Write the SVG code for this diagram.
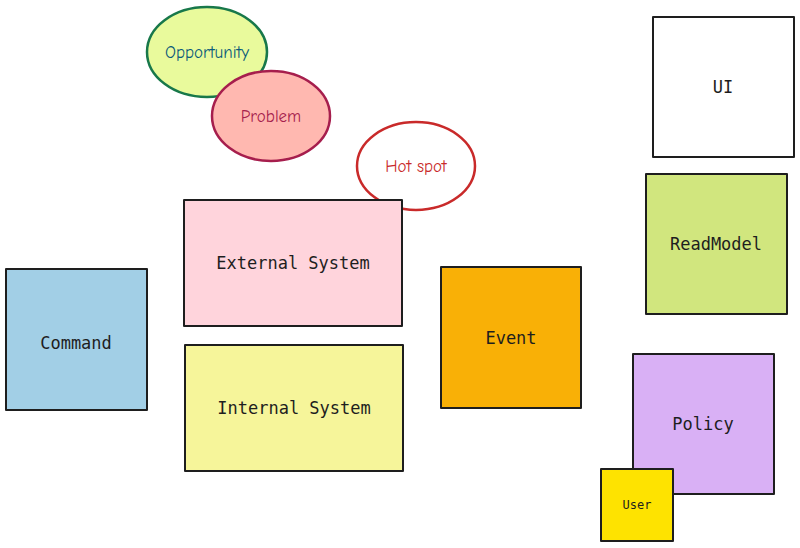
<svg xmlns="http://www.w3.org/2000/svg" width="800" height="548" viewBox="0 0 800 548">
<style>
.box{stroke:#1e1e1e;stroke-width:2;stroke-linejoin:round}
.lbl{font-family:"DejaVu Sans Mono","Liberation Mono",monospace;font-size:17px;fill:#1e1e1e;text-anchor:middle;dominant-baseline:central}
.hand{font-family:"Comic Neue","Noto Sans","DejaVu Sans",sans-serif;font-size:17px;text-anchor:middle;dominant-baseline:central}
</style>
<rect width="800" height="548" fill="#ffffff"/>
<g id="connectors"></g>
<g id="opportunity">
<ellipse cx="207" cy="52" rx="60" ry="45" fill="#e9fa9c" stroke="#18784a" stroke-width="2.5"/>
<text class="hand" x="207" y="52" fill="#0b5a7a">Opportunity</text>
</g>
<g id="problem">
<ellipse cx="271" cy="116" rx="59" ry="45" fill="#ffb8b0" stroke="#a61e4d" stroke-width="2.5"/>
<text class="hand" x="271" y="116" fill="#a61e4d">Problem</text>
</g>
<g id="hotspot">
<ellipse cx="416" cy="166" rx="59" ry="44" fill="#ffffff" stroke="#c92a2a" stroke-width="2.5"/>
<text class="hand" x="416" y="166" fill="#c92a2a">Hot spot</text>
</g>
<g id="external-system">
<rect class="box" x="184" y="200" width="218" height="126" fill="#ffd4dc"/>
<text class="lbl" x="293" y="263">External System</text>
</g>
<g id="internal-system">
<rect class="box" x="185" y="345" width="218" height="126" fill="#f6f59a"/>
<text class="lbl" x="294" y="408">Internal System</text>
</g>
<g id="command">
<rect class="box" x="6" y="269" width="141" height="141" fill="#a2cfe6"/>
<text class="lbl" x="76" y="343">Command</text>
</g>
<g id="event">
<rect class="box" x="441" y="267" width="140" height="141" fill="#f9b006"/>
<text class="lbl" x="511" y="338">Event</text>
</g>
<g id="ui">
<rect class="box" x="653" y="17" width="141" height="140" fill="#ffffff"/>
<text class="lbl" x="723" y="87">UI</text>
</g>
<g id="readmodel">
<rect class="box" x="646" y="174" width="141" height="140" fill="#d1e67e"/>
<text class="lbl" x="716" y="244">ReadModel</text>
</g>
<g id="policy">
<rect class="box" x="633" y="354" width="141" height="140" fill="#d9b0f5"/>
<text class="lbl" x="703" y="424">Policy</text>
</g>
<g id="user">
<rect class="box" x="601" y="469" width="72" height="72" fill="#fee300"/>
<text class="lbl" x="637" y="505" style="font-size:12px">User</text>
</g>
</svg>
